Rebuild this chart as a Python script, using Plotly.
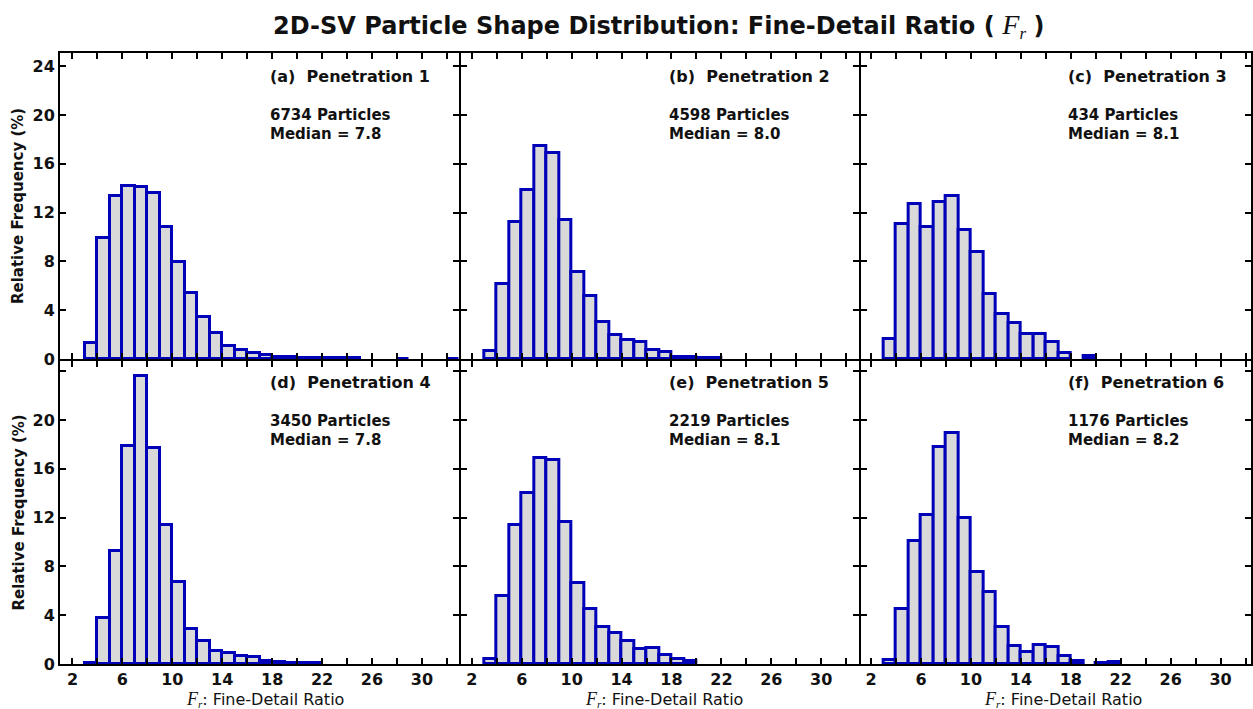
import plotly.graph_objects as go

# ---------------- data ----------------
bin_centers = [3.5, 4.5, 5.5, 6.5, 7.5, 8.5, 9.5, 10.5, 11.5, 12.5,
               13.5, 14.5, 15.5, 16.5, 17.5, 18.5, 19.5, 20.5, 21.5, 22.5,
               23.5, 24.5, 25.5, 26.5, 27.5, 28.5, 29.5, 30.5, 31.5, 32.5]

pen1 = [1.3, 9.9, 13.35, 14.2, 14.1, 13.6, 10.8, 7.95, 5.4, 3.45,
        2.1, 1.1, 0.72, 0.48, 0.3, 0.19, 0.14, 0.1, 0.09, 0.06,
        0.05, 0.05, None, None, None, 0.04, None, None, None, 0.04]
pen2 = [0.66, 6.15, 11.2, 13.85, 17.45, 16.85, 11.4, 7.15, 5.2, 3.0,
        2.0, 1.56, 1.42, 0.71, 0.55, 0.19, 0.13, 0.05, 0.05, None,
        None, None, None, None, None, None, None, None, None, None]
pen3 = [1.61, 11.06, 12.67, 10.83, 12.9, 13.36, 10.6, 8.76, 5.3, 3.69,
        2.99, 2.07, 2.07, 1.38, 0.46, None, 0.23, None, None, None,
        None, None, None, None, None, None, None, None, None, None]
pen4 = [0.12, 3.8, 9.25, 17.9, 23.6, 17.7, 11.4, 6.75, 2.9, 1.9,
        1.1, 0.88, 0.66, 0.55, 0.26, 0.2, 0.12, 0.05, 0.05, None,
        None, None, None, None, None, None, None, None, None, None]
pen5 = [0.41, 5.55, 11.4, 14.0, 16.9, 16.7, 11.65, 6.6, 4.5, 3.0,
        2.57, 1.85, 1.22, 1.35, 0.72, 0.41, 0.23, None, None, None,
        None, None, None, None, None, None, None, None, None, None]
pen6 = [0.34, 4.5, 10.05, 12.2, 17.8, 18.96, 12.0, 7.57, 5.87, 3.0,
        1.45, 1.02, 1.53, 1.36, 0.68, 0.26, None, 0.09, 0.17, None,
        None, None, None, None, None, None, None, None, None, None]

series = [pen1, pen2, pen3, pen4, pen5, pen6]
panel_labels = ["(a)\u00a0 Penetration 1", "(b)\u00a0 Penetration 2", "(c)\u00a0 Penetration 3",
                "(d)\u00a0 Penetration 4", "(e)\u00a0 Penetration 5", "(f)\u00a0 Penetration 6"]
particle_counts = ["6734 Particles", "4598 Particles", "434 Particles",
                   "3450 Particles", "2219 Particles", "1176 Particles"]
medians = ["Median = 7.8", "Median = 8.0", "Median = 8.1",
           "Median = 7.8", "Median = 8.1", "Median = 8.2"]

x_major_ticks = [2, 6, 10, 14, 18, 22, 26, 30]
x_minor_ticks = [4, 8, 12, 16, 20, 24, 28, 32]
y_major_top = [0, 4, 8, 12, 16, 20, 24]
y_major_bottom = [0, 4, 8, 12, 16, 20]
y_minor_bottom = [24]

# ---------------- layout geometry ----------------
W, H = 1253, 709
ML, MR, MT, MB = 60, 0, 53, 45
PW = W - ML - MR
PH = H - MT - MB
px_per_x = 12.5
px_per_y = 12.2
LW = 2  # frame line width; neighbouring panels start LW px later so shared frames overlap

col_px = [(0, 400), (400 + LW, 800), (800 + LW, PW)]
col_x1 = [0, 400, 800]           # pixel (within plot area) where x = 1
row_px = [(0, 306), (306 + LW, PH)]  # from top: upper, lower
row_top_abs = [53, 359]          # visual top of each row in page pixels
text_offsets = [(23, 16), (62, 15), (81, 15)]  # px below row top, font size

FILL = "#d9d9d9"
EDGE = "rgb(0,0,185)"
BOLD = "DejaVu Sans"

fig = go.Figure()
annotations = []

for i, vals in enumerate(series):
    r, c = divmod(i, 3)
    n = i + 1
    xa = "x" if n == 1 else f"x{n}"
    ya = "y" if n == 1 else f"y{n}"
    fig.add_trace(go.Bar(
        x=bin_centers, y=vals, width=1.0,
        marker=dict(color=FILL, line=dict(color=EDGE, width=3)),
        xaxis=xa, yaxis=ya, showlegend=False, hoverinfo="skip"))

    c0, c1 = col_px[c]
    r0, r1 = row_px[r]
    xdom = [c0 / PW, c1 / PW]
    ydom = [1 - r1 / PH, 1 - r0 / PH]
    xmin = 1 + (c0 - col_x1[c]) / px_per_x
    xmax = 1 + (c1 - col_x1[c]) / px_per_x
    ymax = (r1 - r0) / px_per_y
    bottom_abs = MT + r1

    common = dict(showline=True, linewidth=LW, linecolor="black", mirror="ticks",
                  ticks="inside", ticklen=6, tickwidth=1.5, tickcolor="black",
                  showgrid=False, zeroline=False,
                  tickfont=dict(family=BOLD, size=16, color="#111", weight="bold"))
    minor_style = dict(ticks="inside", ticklen=6, tickwidth=1.5, tickcolor="black", showgrid=False)
    xkey = "xaxis" if n == 1 else f"xaxis{n}"
    ykey = "yaxis" if n == 1 else f"yaxis{n}"
    fig.update_layout(**{
        xkey: dict(domain=xdom, range=[xmin, xmax], anchor=ya,
                   tickmode="array", tickvals=x_major_ticks,
                   minor=dict(tickmode="array", tickvals=x_minor_ticks, **minor_style),
                   showticklabels=(r == 1), **common),
        ykey: dict(domain=ydom, range=[0, ymax], anchor=xa,
                   tickmode="array", tickvals=(y_major_top if r == 0 else y_major_bottom),
                   minor=(dict(tickmode="array", tickvals=y_minor_bottom, **minor_style) if r == 1 else None),
                   showticklabels=(c == 0), **common),
    })

    # panel texts (data coordinates)
    tx = 1 + 208 / px_per_x
    for txt, (off, size) in zip([panel_labels[i], particle_counts[i], medians[i]], text_offsets):
        y_abs = row_top_abs[r] + off
        annotations.append(dict(
            text=txt, x=tx, y=(bottom_abs - y_abs) / px_per_y, xref=xa, yref=ya,
            xanchor="left", yanchor="middle", showarrow=False,
            font=dict(family=BOLD, size=size, color="#111", weight="bold")))

    # x-axis titles under lower panels
    if r == 1:
        annotations.append(dict(
            text="<span style='font-family:Liberation Serif;font-size:18px'><i>F</i></span>"
                 "<sub><span style='font-family:Liberation Serif'><i>r</i></span></sub>: Fine-Detail Ratio",
            x=(col_x1[c] + 205) / PW, y=-(699 - MT - PH) / PH, xref="paper", yref="paper",
            xanchor="center", yanchor="middle", showarrow=False,
            font=dict(family="DejaVu Sans", size=16, color="#111")))

# y-axis titles
for r in range(2):
    r0, r1 = row_px[r]
    annotations.append(dict(
        text="Relative Frequency (%)", textangle=-90,
        x=(18 - ML) / PW, y=1 - ((r0 + r1) / 2) / PH, xref="paper", yref="paper",
        xanchor="center", yanchor="middle", showarrow=False,
        font=dict(family=BOLD, size=15, color="#111", weight="bold")))

# main title
annotations.append(dict(
    text="<b>2D-SV Particle Shape Distribution: Fine-Detail Ratio (</b> "
         "<span style='font-family:Liberation Serif;font-size:28px'><i>F</i></span>"
         "<sub><span style='font-family:Liberation Serif'><i>r</i></span></sub> <b>)</b>",
    x=(660 - ML) / PW, y=1 + (MT - 26) / PH, xref="paper", yref="paper",
    xanchor="center", yanchor="middle", showarrow=False,
    font=dict(family=BOLD, size=24, color="#111")))

fig.update_layout(
    width=W, height=H, margin=dict(l=ML, r=MR, t=MT, b=MB),
    paper_bgcolor="white", plot_bgcolor="white",
    bargap=0, annotations=annotations,
)

fig.write_html("out.html", config={"displayModeBar": False})
